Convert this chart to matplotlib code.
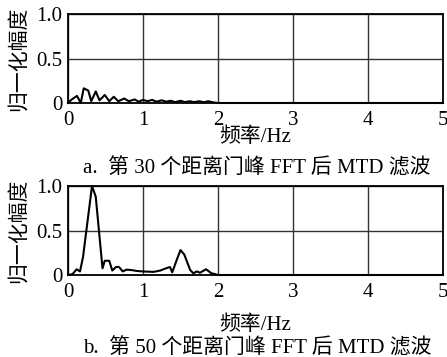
import numpy as np
import matplotlib
matplotlib.use('Agg')
import matplotlib.pyplot as plt

plt.rcParams['font.family'] = ['Liberation Serif', 'Noto Sans CJK SC']
plt.rcParams['font.size'] = 15

# panel a: 30th range gate
freq_a = [0.0, 0.05, 0.12, 0.17, 0.21, 0.27, 0.31, 0.37, 0.42, 0.49, 0.55,
          0.61, 0.67, 0.75, 0.81, 0.89, 0.94, 1.00, 1.06, 1.12, 1.18, 1.25,
          1.31, 1.37, 1.43, 1.50, 1.56, 1.62, 1.68, 1.75, 1.81, 1.87, 1.93,
          2.0, 5.0]
amp_a = [0.0, 0.04, 0.08, 0.0, 0.165, 0.14, 0.02, 0.13, 0.03, 0.09, 0.02,
         0.07, 0.02, 0.05, 0.02, 0.04, 0.015, 0.035, 0.02, 0.035, 0.015, 0.03,
         0.015, 0.025, 0.01, 0.025, 0.01, 0.02, 0.01, 0.02, 0.008, 0.02, 0.008,
         0.0, 0.0]

# panel b: 50th range gate
freq_b = [0.0, 0.06, 0.115, 0.16, 0.20, 0.26, 0.32, 0.37, 0.46, 0.49, 0.55,
          0.59, 0.64, 0.68, 0.73, 0.78, 0.85, 0.92, 1.0, 1.14, 1.23, 1.29,
          1.36, 1.39, 1.45, 1.50, 1.55, 1.63, 1.67, 1.72, 1.76, 1.84, 1.91,
          1.96, 2.0, 5.0]
amp_b = [0.0, 0.01, 0.064, 0.04, 0.2, 0.6, 1.0, 0.88, 0.075, 0.16, 0.16,
         0.05, 0.09, 0.09, 0.04, 0.06, 0.055, 0.045, 0.04, 0.035, 0.05, 0.07,
         0.09, 0.03, 0.17, 0.28, 0.23, 0.055, 0.02, 0.04, 0.025, 0.065, 0.02,
         0.01, 0.0, 0.0]

xticks = [0, 1, 2, 3, 4, 5]
yticks = [0, 0.5, 1.0]
ytick_labels = ['0', '0.5', '1.0']

fig = plt.figure(figsize=(4.47, 3.57), dpi=100)
W, H = 447, 357

def make_axes(top, bottom, freq, amp, caption, xl_y, cap_y):
    ax = fig.add_axes([68 / W, 1 - bottom / H, (443 - 68) / W, (bottom - top) / H])
    ax.plot(freq, amp, color='black', lw=1.5, clip_on=False, zorder=3)
    ax.set_xlim(0, 5)
    ax.set_ylim(0, 1)
    ax.set_xticks(xticks)
    ax.set_yticks(yticks)
    ax.set_yticklabels(ytick_labels)
    ax.grid(True, color='#333333', lw=1)
    ax.tick_params(axis='x', length=0, pad=6)
    ax.tick_params(axis='y', length=0, pad=4)
    for s in ax.spines.values():
        s.set_linewidth(1.3)
    ax.set_ylabel('归一化幅度', family=['Noto Sans CJK SC'], labelpad=5)
    fig.text(255 / W, 1 - xl_y / H, '频率/Hz', ha='center', va='center')
    fig.text(257 / W, 1 - cap_y / H, caption, ha='center', va='center')
    return ax

make_axes(14, 103, freq_a, amp_a, 'a.  第 30 个距离门峰 FFT 后 MTD 滤波', 137, 168)
make_axes(186, 275, freq_b, amp_b, 'b.  第 50 个距离门峰 FFT 后 MTD 滤波', 325, 348)

fig.savefig('out.png', dpi=100)
